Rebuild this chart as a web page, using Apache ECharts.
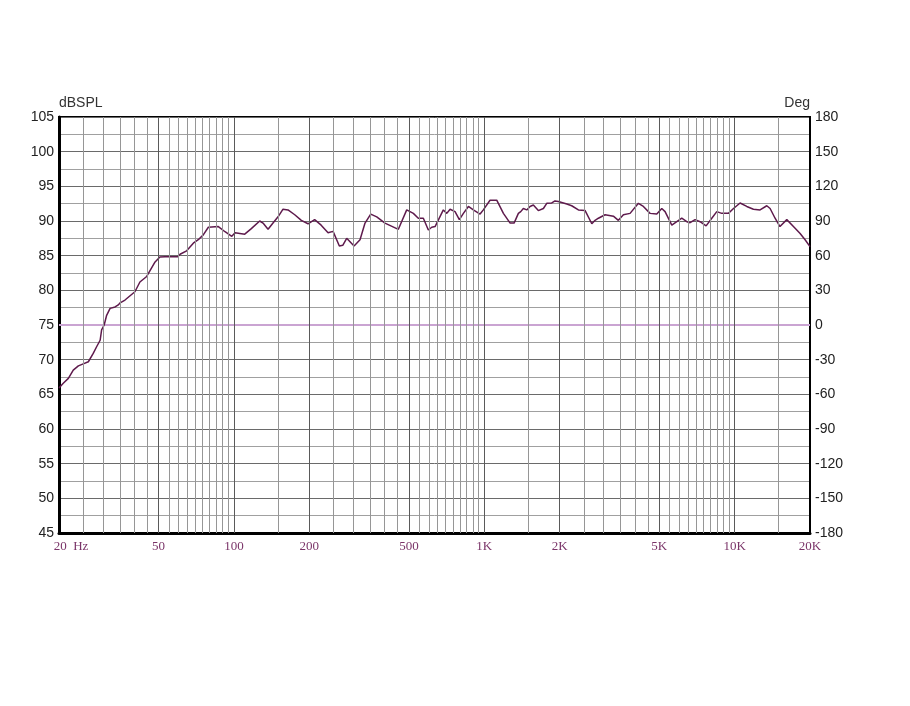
<!DOCTYPE html>
<html>
<head>
<meta charset="utf-8">
<script src="https://cdn.jsdelivr.net/npm/echarts@6/dist/echarts.min.js"></script>
<style>html,body{margin:0;padding:0;background:#fff}#c{width:910px;height:706px}</style>
</head>
<body>
<div id="c"></div>
<script>
// Frequency (Hz) of each measured point
var freqs = [20,20.8,21.8,22.8,23.9,25.0,26.2,27.4,28.3,29.2,29.6,30.3,31.0,32.0,33.5,34.5,35.1,36.7,40.2,42.1,44.8,48.4,50.6,53.0,59.6,60.9,64.7,68.8,72.0,75.4,79.0,86.6,92.1,98.0,101,110.4,117.3,126.7,130.6,136.8,143.2,150,157,164.4,174.9,185.8,197.6,210,223,237.6,248.8,263.6,272,282,301.8,318.8,333.8,351.8,371.8,401,453.6,489.8,520.6,545,570.8,597.6,616.6,635.8,686,708,730,764,795,825,864,904,962,991,1054,1121,1192,1268,1315,1368,1398,1432,1478,1523,1570,1644,1722,1776,1860,1916,1976,2007,2136,2234,2376,2528,2688,2770,2856,3038,3278,3432,3594,3822,4126,4320,4594,4886,5116,5274,5610,5874,6148,6440,6638,6950,7278,7692,8104,8484,8884,9441,9896,10514,11180,11886,12636,13440,13856,14506,15172,16156,17172,18262,19118,20000];
// SPL (dB) at each frequency
var spl = [65.9,66.6,67.3,68.5,69.1,69.4,69.7,70.9,71.9,72.8,74.3,75.0,76.4,77.4,77.6,77.9,78.2,78.6,79.8,81.2,82.0,84.1,84.8,84.85,84.85,85.2,85.7,86.8,87.3,88.0,89.1,89.2,88.45,87.8,88.3,88.1,88.9,90.0,89.7,88.8,89.7,90.6,91.7,91.6,90.9,90.1,89.6,90.2,89.4,88.3,88.5,86.4,86.5,87.5,86.4,87.3,89.7,91.0,90.6,89.7,88.8,91.6,91.1,90.4,90.4,88.7,89.1,89.2,91.6,91.1,91.7,91.35,90.2,91.1,92.1,91.6,91.0,91.6,93.0,93.0,91.1,89.7,89.7,91.1,91.35,91.8,91.6,92.1,92.3,91.5,91.8,92.55,92.6,92.9,92.8,93.0,92.45,92.2,91.6,91.5,89.6,90.1,90.4,90.9,90.7,90.1,90.9,91.1,92.55,92.1,91.1,91.0,91.8,91.35,89.4,89.9,90.4,89.9,89.75,90.2,89.9,89.3,90.4,91.35,91.1,91.1,91.8,92.6,92.1,91.7,91.6,92.2,91.8,90.4,89.2,90.2,89.2,88.2,87.3,86.3];
// Vertical grid lines (Hz)
var gridFreqs = [25,30,35,40,45,50,55,60,65,70,75,80,85,90,95,100,150,200,250,300,350,400,450,500,550,600,650,700,750,800,850,900,950,1000,1500,2000,2500,3000,3500,4000,4500,5000,5500,6000,6500,7000,7500,8000,8500,9000,9500,10000,15000];
var majorFreqs = [50,100,200,500,1000,2000,5000,10000];
// Horizontal grid lines (dB)
var dbTicks = [45,50,55,60,65,70,75,80,85,90,95,100,105];
// X tick labels
var xTickValues = [20,50,100,200,500,1000,2000,5000,10000,20000];
var xTickLabels = ['20  Hz','50','100','200','500','1K','2K','5K','10K','20K'];
// Phase trace: flat at 0 deg across the band
var phaseFreqs = [20, 20000];
var phaseDeg = [0, 0];

var chart = echarts.init(document.getElementById('c'), null, {renderer:'canvas'});
var vLines = gridFreqs.map(function(f){
  var major = majorFreqs.indexOf(f) >= 0;
  return {xAxis: f, lineStyle: {color: major ? '#5a5a5a' : '#969696', width: 1, type: 'solid'}};
});
// the 0-deg phase line sits on 75 dB; leave that grid line out so the pink shows
var splitColors = dbTicks.map(function(v){ return v === 75 ? 'rgba(0,0,0,0)' : '#6a6a6a'; });

var font = 'Liberation Sans, Arial, sans-serif';
var serif = 'Liberation Serif, Times New Roman, serif';

chart.setOption({
  animation: false,
  backgroundColor: '#ffffff',
  grid: {left: 59, right: 100, top: 117, bottom: 173, show: true, borderColor: '#000', borderWidth: 2, containLabel: false},
  xAxis: {
    type: 'log', logBase: 10, min: 20, max: 20000, position: 'bottom',
    axisLine: {show: true, onZero: false, lineStyle: {color: '#000', width: 3}},
    axisTick: {show: false},
    splitLine: {show: false},
    minorSplitLine: {show: false},
    axisLabel: {
      customValues: xTickValues,
      margin: 7,
      fontFamily: serif,
      fontSize: 13,
      color: '#7a3468',
      formatter: function(v){
        var i = xTickValues.indexOf(Math.round(v));
        if (i === 0) return '{hz|' + xTickLabels[0] + '}';
        return i >= 0 ? xTickLabels[i] : '';
      },
      rich: {hz: {fontFamily: serif, fontSize: 13, color: '#7a3468', padding: [0,0,0,24]}}
    }
  },
  yAxis: [{
    type: 'value', min: 45, max: 105, interval: 5,
    name: 'dBSPL', nameLocation: 'end', nameGap: 4,
    nameTextStyle: {align: 'left', fontFamily: font, fontSize: 14, color: '#333'},
    axisLine: {show: true, onZero: false, lineStyle: {color: '#000', width: 3}},
    axisTick: {show: false},
    axisLabel: {margin: 5, fontFamily: font, fontSize: 14, color: '#222'},
    splitLine: {show: true, lineStyle: {color: splitColors, width: 1}},
    minorTick: {show: true, splitNumber: 2, length: 0},
    minorSplitLine: {show: true, lineStyle: {color: '#a0a0a0', width: 1}}
  }, {
    type: 'value', min: -180, max: 180, interval: 30, position: 'right',
    name: 'Deg', nameLocation: 'end', nameGap: 4,
    nameTextStyle: {align: 'right', fontFamily: font, fontSize: 14, color: '#333'},
    axisLine: {show: true, onZero: false, lineStyle: {color: '#000', width: 2}},
    axisTick: {show: false},
    axisLabel: {margin: 5, fontFamily: font, fontSize: 14, color: '#222'},
    splitLine: {show: false}
  }],
  series: [{
    type: 'line',
    z: 2,
    data: [],
    silent: true,
    markLine: {
      silent: true, symbol: 'none', animation: false,
      label: {show: false},
      data: vLines
    }
  }, {
    type: 'line',
    yAxisIndex: 1,
    z: 3,
    silent: true,
    data: phaseFreqs.map(function(f, i){ return [f, phaseDeg[i]]; }),
    showSymbol: false, symbol: 'none',
    lineStyle: {color: '#caa4d2', width: 2}
  }, {
    type: 'line',
    z: 4,
    data: freqs.map(function(f, i){ return [f, spl[i]]; }),
    showSymbol: false, symbol: 'none', smooth: false,
    lineStyle: {color: '#5e1a4c', width: 1.5}
  }]
});
</script>
</body>
</html>
